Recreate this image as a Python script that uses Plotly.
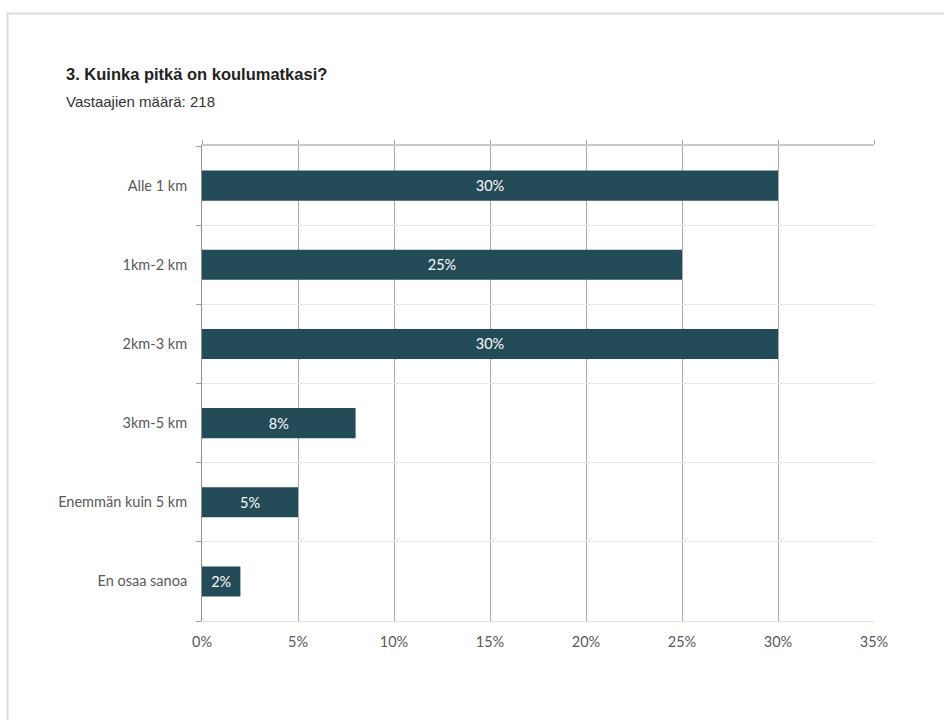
import plotly.graph_objects as go

# Survey answers: length of the trip to school
categories = ["Alle 1 km", "1km-2 km", "2km-3 km", "3km-5 km", "Enemmän kuin 5 km", "En osaa sanoa"]
percent = [30, 25, 30, 8, 5, 2]
x_ticks = [0, 5, 10, 15, 20, 25, 30, 35]

title_text = "3. Kuinka pitkä on koulumatkasi?"
subtitle_text = "Vastaajien määrä: 218"

BAR = "#244b58"
LABEL = "#595959"
GRID_V = "#a9a9a9"
GRID_H = "#e6e6e6"
BODY_FONT = "Lato, Open Sans, sans-serif"

fig = go.Figure()

fig.add_trace(go.Bar(
    x=percent,
    y=categories,
    orientation="h",
    marker=dict(color=BAR, line=dict(width=0)),
    text=[f"{v}%" for v in percent],
    textposition="inside",
    insidetextanchor="middle",
    textfont=dict(family=BODY_FONT, size=14.5, color="white"),
    hoverinfo="skip",
    showlegend=False,
))

# Invisible trace carrying the top axis (short ticks above the grid + top rule)
fig.add_trace(go.Scatter(
    x=percent,
    y=categories,
    xaxis="x2",
    mode="markers",
    marker=dict(opacity=0),
    hoverinfo="skip",
    showlegend=False,
))

fig.update_layout(
    width=944,
    height=720,
    paper_bgcolor="white",
    plot_bgcolor="white",
    margin=dict(l=202, r=70, t=146, b=99),
    bargap=0.62,
    uniformtext=dict(minsize=8, mode="show"),
    xaxis=dict(
        range=[0, 35],
        tickvals=x_ticks,
        ticktext=[f"{t}%" for t in x_ticks],
        showgrid=True,
        gridcolor=GRID_V,
        gridwidth=1,
        zeroline=False,
        showline=True,
        linecolor="#e0e0e0",
        linewidth=1,
        ticks="",
        ticklabelstandoff=8,
        tickfont=dict(family=BODY_FONT, size=14.5, color=LABEL),
        fixedrange=True,
    ),
    xaxis2=dict(
        overlaying="x",
        side="top",
        matches="x",
        range=[0, 35],
        tickvals=x_ticks,
        showticklabels=False,
        ticks="outside",
        ticklen=4,
        tickcolor=GRID_V,
        showgrid=False,
        zeroline=False,
        showline=True,
        linecolor="#c8c8c8",
        linewidth=2,
    ),
    yaxis=dict(
        categoryorder="array",
        categoryarray=categories[::-1],
        tickson="boundaries",
        ticks="outside",
        ticklen=5,
        tickcolor="#a0a0a0",
        ticklabelstandoff=11,
        showgrid=True,
        gridcolor=GRID_H,
        gridwidth=1,
        showline=True,
        linecolor="#8c8c8c",
        linewidth=1,
        zeroline=False,
        tickfont=dict(family=BODY_FONT, size=14.5, color=LABEL),
        fixedrange=True,
    ),
    annotations=[
        dict(
            text="<b>" + title_text + "</b>",
            xref="paper", yref="paper",
            x=-0.2054, y=1.1516,
            xanchor="left", yanchor="middle",
            showarrow=False,
            font=dict(family="Liberation Sans, Arial, sans-serif", size=16.5, color="#222222"),
        ),
        dict(
            text=subtitle_text,
            xref="paper", yref="paper",
            x=-0.2054, y=1.0947,
            xanchor="left", yanchor="middle",
            showarrow=False,
            font=dict(family="Liberation Sans, Arial, sans-serif", size=15, color="#333333"),
        ),
    ],
    shapes=[
        # card frame around the chart
        dict(
            type="rect",
            xref="paper", yref="paper",
            x0=-0.2894, x1=1.12,
            y0=-0.24, y1=1.2789,
            line=dict(color="#dcdcdc", width=2),
            fillcolor="rgba(0,0,0,0)",
            layer="below",
        ),
    ],
)

fig.write_html("out.html")
